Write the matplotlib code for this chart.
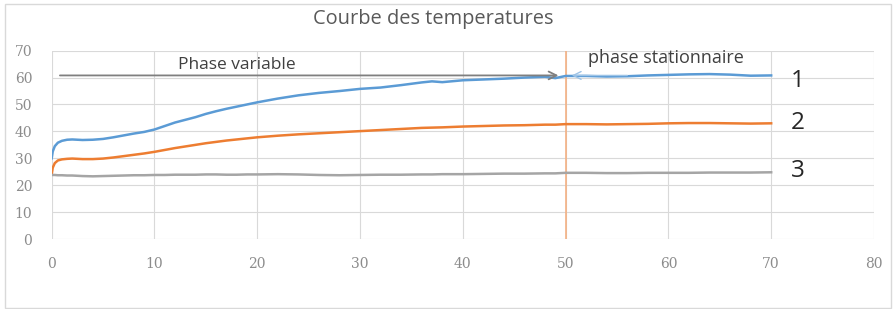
import matplotlib
matplotlib.use("Agg")
import matplotlib.pyplot as plt
from matplotlib.patches import Rectangle

# temps (x) and the three temperature curves
temps = [0, 0.1, 0.3, 0.6, 1, 1.5, 2, 3, 4, 5, 6, 7, 8, 9, 10, 11, 12, 13, 14, 15,
         16, 17, 18, 19, 20, 22, 24, 26, 28, 30, 32, 34, 36, 37, 38, 40, 42, 44,
         46, 48, 49, 50, 52, 54, 56, 58, 60, 62, 64, 66, 68, 70]
courbe_1 = [30, 32.5, 34.5, 35.8, 36.5, 36.9, 37.0, 36.8, 36.9, 37.2, 37.8, 38.5,
            39.2, 39.8, 40.7, 42.0, 43.3, 44.3, 45.3, 46.5, 47.5, 48.4, 49.2, 50.0,
            50.8, 52.2, 53.4, 54.3, 55.0, 55.8, 56.3, 57.2, 58.2, 58.6, 58.3, 59.0,
            59.3, 59.6, 60.0, 60.3, 59.8, 60.6, 60.6, 60.4, 60.5, 60.8, 61.0, 61.2,
            61.3, 61.1, 60.7, 60.8]
courbe_2 = [24, 26.5, 28.2, 29.2, 29.6, 29.8, 29.9, 29.7, 29.7, 29.9, 30.3, 30.8,
            31.3, 31.8, 32.4, 33.1, 33.8, 34.4, 35.0, 35.6, 36.1, 36.6, 37.0, 37.4,
            37.8, 38.4, 38.9, 39.3, 39.7, 40.1, 40.5, 40.9, 41.3, 41.4, 41.5, 41.8,
            42.0, 42.2, 42.3, 42.5, 42.5, 42.7, 42.7, 42.6, 42.7, 42.8, 43.0, 43.1,
            43.1, 43.0, 42.9, 43.0]
courbe_3 = [23.8, 23.8, 23.8, 23.7, 23.7, 23.6, 23.6, 23.4, 23.3, 23.4, 23.5, 23.6,
            23.7, 23.7, 23.8, 23.8, 23.9, 23.9, 23.9, 24.0, 24.0, 23.9, 23.9, 24.0,
            24.0, 24.1, 24.0, 23.8, 23.7, 23.8, 23.9, 23.9, 24.0, 24.0, 24.1, 24.1,
            24.2, 24.3, 24.3, 24.4, 24.4, 24.6, 24.6, 24.5, 24.5, 24.6, 24.6, 24.6,
            24.7, 24.7, 24.7, 24.8]
noms = ["1", "2", "3"]
x_ticks = [0, 10, 20, 30, 40, 50, 60, 70, 80]
y_ticks = [0, 10, 20, 30, 40, 50, 60, 70]
x_phase = 50

fig = plt.figure(figsize=(8.96, 3.09), dpi=100)
ax = fig.add_axes([0.0577, 0.2265, 0.9177, 0.6095])

# outer chart border
fig.patches.append(Rectangle((0.006, 0.004), 0.988, 0.982, transform=fig.transFigure,
                             fill=False, edgecolor="#d9d9d9", linewidth=1))

ax.plot(temps, courbe_1, color="#5b9bd5", linewidth=1.8, zorder=3)
ax.plot(temps, courbe_2, color="#ed7d31", linewidth=1.8, zorder=3)
ax.plot(temps, courbe_3, color="#a5a5a5", linewidth=1.8, zorder=3)

ax.axvline(x_phase, color="#f4b183", linewidth=1.2, zorder=2)

# phase arrows
ax.annotate("", xy=(49.3, 60.8), xytext=(0.8, 60.8),
            arrowprops=dict(arrowstyle="->", color="#7f7f7f", lw=1.3,
                            shrinkA=0, shrinkB=0, mutation_scale=14), zorder=4)
ax.annotate("", xy=(50.6, 60.8), xytext=(56, 60.8),
            arrowprops=dict(arrowstyle="->", color="#9dc3e6", lw=1.0,
                            shrinkA=0, shrinkB=0, mutation_scale=14), zorder=4)

ax.text(18, 64.6, "Phase variable", fontsize=12.5, color="#404040",
        ha="center", va="center", family="Open Sans")
ax.text(64.3 - 4.5, 67.3, "phase stationnaire", fontsize=13, color="#404040",
        ha="center", va="center", family="Open Sans")

for nom, y in zip(noms, [58.8, 43, 25.2]):
    ax.text(72.6, y, nom, fontsize=17.5, color="#262626", ha="center",
            va="center", family="Open Sans")

ax.set_xlim(0, 80)
ax.set_ylim(0, 70)
ax.set_xticks(x_ticks)
ax.set_yticks(y_ticks)
ax.grid(True, color="#d9d9d9", linewidth=0.8)
ax.set_axisbelow(True)
for s in ax.spines.values():
    s.set_visible(False)
ax.tick_params(length=0, colors="#8c8c8c", labelsize=10)
ax.tick_params(axis="y", pad=14)
ax.tick_params(axis="x", pad=13)
for lab in ax.get_xticklabels() + ax.get_yticklabels():
    lab.set_family("DejaVu Serif")

fig.text(0.483, 0.938, "Courbe des temperatures", fontsize=14.4, color="#595959",
         ha="center", va="center", family="Open Sans")

fig.savefig("out.png", dpi=100)
